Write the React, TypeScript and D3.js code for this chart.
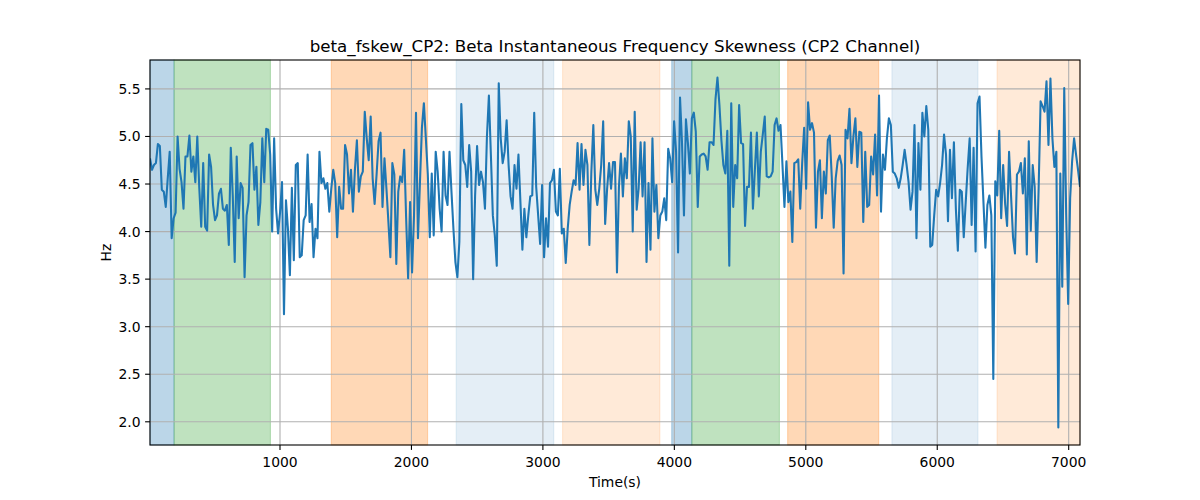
import React from "react";
import * as d3 from "d3";

// signal samples, read left to right in six stretches of the trace
const part1 = [
  4.77, 4.65, 4.7, 4.72, 4.92, 4.9, 4.44, 4.42, 4.26, 4.56, 4.84, 3.93, 4.14, 4.2, 5.0, 4.66, 4.52, 4.24, 4.79, 4.79,
  5.01, 4.63, 4.79, 4.52, 5.0, 4.46, 4.05, 4.72, 4.05, 4.01, 4.81, 4.68, 4.28, 4.12, 4.17, 4.4, 4.45, 4.24, 4.22, 4.28,
  3.86, 4.88, 4.38, 3.68, 4.79, 4.14, 4.51, 4.46, 3.52, 4.17, 4.31, 4.91, 4.93, 4.44, 4.68, 4.07, 4.31, 4.98, 4.52, 5.08,
  5.07, 4.81, 4.0, 4.98, 4.24, 3.98, 4.2, 4.52, 3.13, 4.33, 4.03, 3.54, 4.46, 3.7, 4.7, 4.72,
];
const part2 = [
  3.73, 3.75, 4.12, 4.17, 4.81, 4.1, 4.29, 3.73, 4.03, 3.93, 4.84, 4.51, 4.56, 4.45, 4.51, 4.21, 4.45, 4.65, 4.51, 3.94,
  4.47, 4.24, 4.24, 4.91, 4.81, 4.4, 4.65, 4.21, 4.65, 4.96, 4.42, 4.58, 4.63, 5.26, 4.98, 4.75, 5.21, 4.56, 4.29, 4.6,
  4.95, 5.04, 4.26, 4.77, 4.45, 4.1, 3.73, 4.72, 4.6, 3.66, 4.42, 4.58, 4.52, 4.86, 4.14, 3.51, 4.31, 3.57, 4.17, 5.25,
  3.93, 4.51, 5.09, 5.35, 4.98, 4.6, 3.94, 4.61, 3.96, 4.84, 4.63, 4.24, 4.0, 4.84, 4.38, 4.28, 4.84, 4.42, 4.03, 3.68,
  3.52,
];
const part3 = [
  3.89, 5.34, 4.75, 4.7, 4.47, 4.91, 4.63, 3.5, 4.38, 4.9, 4.49, 4.63, 4.52, 4.24, 5.0, 5.43, 4.81, 4.17, 3.96, 3.64,
  5.56, 4.98, 4.72, 4.84, 5.17, 4.7, 4.37, 4.24, 4.7, 4.45, 4.81, 4.31, 3.81, 4.24, 3.94, 4.17, 4.37, 4.38, 5.25, 4.47,
  4.17, 3.87, 4.49, 3.73, 4.14, 3.84, 4.51, 4.54, 4.65, 4.21, 4.17, 4.66, 3.98, 4.03, 3.67, 4.03, 4.28, 4.42, 4.54, 4.49,
  4.93, 4.44, 4.92, 4.49, 4.86, 4.7, 3.86, 4.63, 5.12, 4.44, 4.28, 4.45, 4.7, 5.16, 4.08, 4.45,
];
const part4 = [
  4.72, 4.45, 4.73, 4.73, 3.57, 4.47, 4.82, 4.37, 4.77, 4.56, 5.16, 5.0, 4.0, 5.26, 4.23, 4.45, 4.94, 4.37, 4.94, 3.68,
  4.51, 3.81, 4.98, 4.21, 4.49, 3.93, 4.17, 4.21, 4.35, 4.12, 4.87, 4.77, 4.52, 5.16, 4.84, 3.78, 5.41, 4.94, 4.17, 5.18,
  4.93, 4.61, 5.19, 5.25, 5.05, 4.26, 4.79, 4.81, 4.82, 4.79, 4.65, 4.94, 4.94, 4.91, 5.39, 5.62, 5.33, 4.96, 4.7, 4.61,
  5.06, 3.64, 5.35, 4.26, 4.7, 4.56, 5.33, 4.93, 4.92, 4.06, 4.47, 4.47, 5.04, 4.24, 4.65, 5.04, 4.37, 4.84, 5.02,
];
const part5 = [
  5.21, 4.58, 4.57, 4.58, 4.63, 5.12, 5.19, 5.06, 5.12, 4.7, 4.26, 4.74, 4.31, 4.42, 3.89, 4.72, 4.73, 4.76, 4.24, 4.72,
  5.09, 4.45, 5.36, 5.07, 5.14, 5.04, 4.04, 4.63, 4.75, 4.14, 4.63, 4.4, 4.96, 5.01, 4.58, 4.04, 4.56, 4.74, 4.8, 4.7,
  3.56, 5.07, 4.98, 5.29, 4.72, 5.0, 5.19, 4.68, 5.05, 5.04, 4.1, 4.84, 4.26, 4.28, 4.79, 4.6, 5.02, 4.38, 5.43, 4.21,
  4.81, 4.65, 4.98, 5.19, 5.12, 4.63, 4.61, 4.56, 4.46, 4.56, 4.7, 4.86, 4.7, 4.52, 4.23, 4.42, 5.12, 3.93, 4.93,
];
const part6 = [
  4.44, 5.25, 5.0, 5.32, 5.07, 3.84, 3.86, 4.17, 4.44, 4.37, 4.51, 4.7, 5.02, 4.81, 4.11, 4.86, 4.35, 4.94, 4.24, 3.8,
  4.44, 4.42, 3.94, 4.31, 4.67, 4.98, 4.07, 4.88, 3.79, 5.35, 5.42, 4.79, 4.31, 3.83, 4.28, 4.38, 4.17, 2.45, 4.53, 4.38,
  5.06, 4.14, 4.7, 4.29, 4.06, 4.84, 4.38, 3.94, 3.77, 4.6, 4.63, 4.72, 4.4, 4.77, 3.76, 4.95, 4.01, 4.7, 4.47, 3.68,
  4.45, 5.37, 5.32, 5.26, 5.58, 4.91, 5.61, 4.98, 4.68, 4.84, 1.94, 4.61, 3.42, 5.51, 4.17, 3.24, 4.35, 4.74, 4.98, 4.81,
  4.65, 4.47,
];
const values = [...part1, ...part2, ...part3, ...part4, ...part5, ...part6];

// first and last sample time (s)
const tStart = 11;
const tEnd = 7086;

// shaded phases
const spanStarts = [11, 194, 1390, 2340, 3150, 3980, 4133, 4862, 5655, 6455];
const spanEnds = [194, 927, 2123, 3083, 3890, 4133, 4799, 5555, 6310, 7086];
const spanKinds = ["a", "b", "c", "d", "e", "a", "b", "c", "d", "e"];

const xTicks = [1000, 2000, 3000, 4000, 5000, 6000, 7000];
const yTicks = [2.0, 2.5, 3.0, 3.5, 4.0, 4.5, 5.0, 5.5];

const spanStyle = {
  a: { color: "#1f77b4", alpha: 0.3 },
  b: { color: "#2ca02c", alpha: 0.3 },
  c: { color: "#ff7f0e", alpha: 0.3 },
  d: { color: "#1f77b4", alpha: 0.12 },
  e: { color: "#ff7f0e", alpha: 0.16 },
};

const W = 1200;
const H = 500;
const M = { left: 150, right: 1080, top: 60, bottom: 445 };
const FONT = "DejaVu Sans, sans-serif";

export default function App() {
  const step = (tEnd - tStart) / (values.length - 1);
  const pts = values.map((v, i) => [tStart + i * step, v] as [number, number]);

  const [lo, hi] = d3.extent(values) as [number, number];
  const pad = (hi - lo) * 0.05;

  const x = d3.scaleLinear().domain([tStart, tEnd]).range([M.left, M.right]);
  const y = d3.scaleLinear().domain([lo - pad, hi + pad]).range([M.bottom, M.top]);

  const line = d3
    .line<[number, number]>()
    .x((d) => x(d[0]))
    .y((d) => y(d[1]));

  return (
    <svg width={W} height={H} style={{ display: "block", position: "absolute", left: 0, top: 0 }} fontFamily={FONT}>
      <rect width={W} height={H} fill="#fff" />
      <defs>
        <clipPath id="plot">
          <rect x={M.left} y={M.top} width={M.right - M.left} height={M.bottom - M.top} />
        </clipPath>
      </defs>

      {spanStarts.map((s, i) => {
        const st = spanStyle[spanKinds[i]];
        return (
          <rect
            key={i}
            x={x(s)}
            y={M.top}
            width={x(spanEnds[i]) - x(s)}
            height={M.bottom - M.top}
            fill={st.color}
            fillOpacity={st.alpha}
            stroke={st.color}
            strokeOpacity={st.alpha}
            strokeWidth={1}
          />
        );
      })}

      {xTicks.map((t) => (
        <line key={t} x1={x(t)} x2={x(t)} y1={M.top} y2={M.bottom} stroke="#b0b0b0" strokeWidth={1.1} />
      ))}
      {yTicks.map((t) => (
        <line key={t} x1={M.left} x2={M.right} y1={y(t)} y2={y(t)} stroke="#b0b0b0" strokeWidth={1.1} />
      ))}

      <path
        d={line(pts) || ""}
        fill="none"
        stroke="#1f77b4"
        strokeWidth={2.08}
        strokeLinejoin="round"
        clipPath="url(#plot)"
      />

      <rect
        x={M.left}
        y={M.top}
        width={M.right - M.left}
        height={M.bottom - M.top}
        fill="none"
        stroke="#000"
        strokeWidth={1.1}
      />

      {xTicks.map((t) => (
        <g key={t}>
          <line x1={x(t)} x2={x(t)} y1={M.bottom} y2={M.bottom + 4.9} stroke="#000" strokeWidth={1.1} />
          <text x={x(t)} y={467} textAnchor="middle" fontSize={13.9} fill="#000">
            {t}
          </text>
        </g>
      ))}
      {yTicks.map((t) => (
        <g key={t}>
          <line x1={M.left - 4.9} x2={M.left} y1={y(t)} y2={y(t)} stroke="#000" strokeWidth={1.1} />
          <text x={140.5} y={y(t)} dy="0.36em" textAnchor="end" fontSize={13.9} fill="#000">
            {t.toFixed(1)}
          </text>
        </g>
      ))}

      <text x={(M.left + M.right) / 2} y={487} textAnchor="middle" fontSize={13.9} fill="#000">
        Time(s)
      </text>
      <text
        transform={`translate(111,${(M.top + M.bottom) / 2}) rotate(-90)`}
        textAnchor="middle"
        fontSize={13.9}
        fill="#000"
      >
        Hz
      </text>
      <text x={(M.left + M.right) / 2} y={51.7} textAnchor="middle" fontSize={16.7} fill="#000">
        beta_fskew_CP2: Beta Instantaneous Frequency Skewness (CP2 Channel)
      </text>
    </svg>
  );
}
